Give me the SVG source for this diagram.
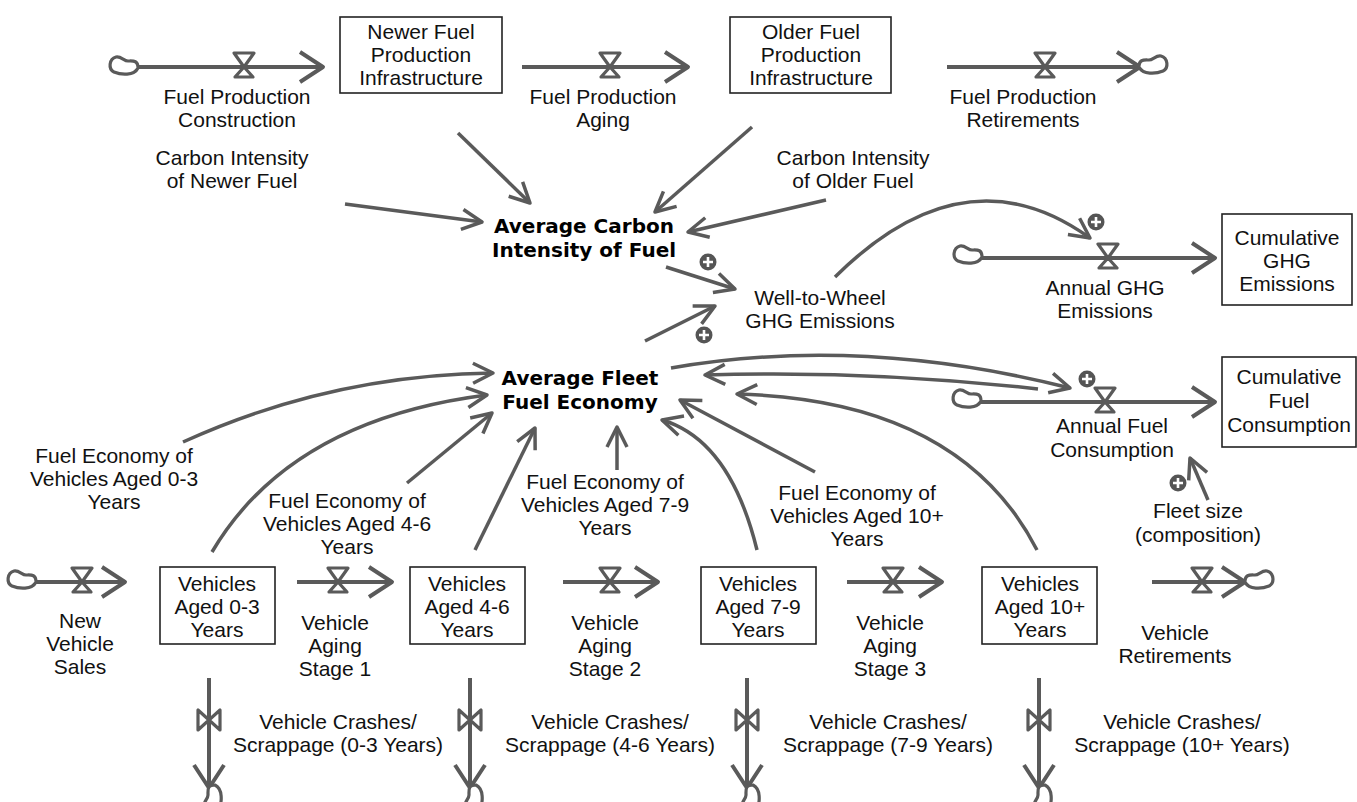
<svg xmlns="http://www.w3.org/2000/svg" xmlns:xlink="http://www.w3.org/1999/xlink" width="1357" height="802" viewBox="0 0 1357 802">
<style>
.t{font-family:"Liberation Sans",Arial,sans-serif;font-size:21px;fill:#111;text-anchor:middle}
.b{font-family:"DejaVu Sans",sans-serif;font-weight:bold;font-size:20px;fill:#000;text-anchor:middle}
.box{fill:#fff;stroke:#222;stroke-width:1.6}
.flow{stroke:#5a5a5a;stroke-width:4;fill:none;marker-end:url(#fa)}
.link{stroke:#5a5a5a;stroke-width:3.5;fill:none;marker-end:url(#ah)}
.valve{fill:#fff;stroke:#5a5a5a;stroke-width:3.2;stroke-linejoin:round}
.cloud{fill:#fff;stroke:#5a5a5a;stroke-width:3.2;stroke-linejoin:round}
</style>
<defs>
<marker id="ah" markerUnits="userSpaceOnUse" viewBox="-25 -13 30 26" markerWidth="30" markerHeight="26" refX="0" refY="0" orient="auto">
<path d="M-20,-10 L0,0 L-20,10" fill="none" stroke="#5a5a5a" stroke-width="3.5" stroke-linejoin="round"/>
</marker>
<marker id="fa" markerUnits="userSpaceOnUse" viewBox="-28 -18 33 36" markerWidth="33" markerHeight="36" refX="0" refY="0" orient="auto">
<path d="M-23,-15 L0,0 L-23,15" fill="none" stroke="#5a5a5a" stroke-width="4" stroke-linejoin="round"/>
</marker>
<path id="vh" class="valve" d="M-10,-14 L10,-14 L0,0 Z M0,0 L9,10 L-9,10 Z"/>
<path id="vv" class="valve" d="M-11,-10 L-11,10 L0,0 Z M11,-10 L11,10 L0,0 Z"/>
<path id="cl" class="cloud" d="M14,3 C10,11 -3,10 -10,7 C-16,4 -15,-6 -8,-8 C-3,-9 0,-4 4,-4 C9,-4 14,-5 14,3 Z"/>
<g id="plus"><circle r="8.5" fill="#555"/><path d="M-5,0 H5 M0,-5 V5" stroke="#fff" stroke-width="2.6"/></g>
</defs>
<rect width="1357" height="802" fill="#fff"/>

<g id="connectors">
<line class="flow" x1="135" y1="67" x2="323" y2="67"/>
<line class="flow" x1="522" y1="67" x2="688" y2="67"/>
<line class="flow" x1="947" y1="67" x2="1140" y2="67"/>
<line class="flow" x1="980" y1="258" x2="1215" y2="258"/>
<line class="flow" x1="980" y1="402" x2="1215" y2="402"/>
<line class="flow" x1="33" y1="582" x2="125" y2="582"/>
<line class="flow" x1="297" y1="582" x2="392" y2="582"/>
<line class="flow" x1="563" y1="582" x2="658" y2="582"/>
<line class="flow" x1="847" y1="582" x2="942" y2="582"/>
<line class="flow" x1="1152" y1="582" x2="1245" y2="582"/>
<line class="flow" x1="209" y1="678" x2="209" y2="788"/>
<line class="flow" x1="470" y1="678" x2="470" y2="788"/>
<line class="flow" x1="747" y1="678" x2="747" y2="788"/>
<line class="flow" x1="1039" y1="678" x2="1039" y2="788"/>

<use xlink:href="#vh" x="244" y="67"/>
<use xlink:href="#vh" x="610" y="67"/>
<use xlink:href="#vh" x="1045" y="67"/>
<use xlink:href="#vh" x="1108" y="258"/>
<use xlink:href="#vh" x="1105" y="402"/>
<use xlink:href="#vh" x="82" y="582"/>
<use xlink:href="#vh" x="338" y="582"/>
<use xlink:href="#vh" x="610" y="582"/>
<use xlink:href="#vh" x="893" y="582"/>
<use xlink:href="#vh" x="1202" y="582"/>
<use xlink:href="#vv" x="209" y="720"/>
<use xlink:href="#vv" x="470" y="720"/>
<use xlink:href="#vv" x="747" y="720"/>
<use xlink:href="#vv" x="1039" y="720"/>

<use xlink:href="#cl" transform="translate(124,65)"/>
<use xlink:href="#cl" transform="translate(1153,64) scale(-1,1)"/>
<use xlink:href="#cl" transform="translate(968,254)"/>
<use xlink:href="#cl" transform="translate(967,398)"/>
<use xlink:href="#cl" transform="translate(22,579)"/>
<use xlink:href="#cl" transform="translate(1259,579) scale(-1,1)"/>
<use xlink:href="#cl" transform="translate(212,799) rotate(-90)"/>
<use xlink:href="#cl" transform="translate(473,799) rotate(-90)"/>
<use xlink:href="#cl" transform="translate(750,799) rotate(-90)"/>
<use xlink:href="#cl" transform="translate(1042,799) rotate(-90)"/>

<line class="link" x1="458" y1="133" x2="530" y2="203"/>
<line class="link" x1="752" y1="127" x2="655" y2="212"/>
<line class="link" x1="345" y1="204" x2="482" y2="222"/>
<line class="link" x1="826" y1="200" x2="688" y2="232"/>
<line class="link" x1="666" y1="267" x2="735" y2="289"/>
<line class="link" x1="645" y1="341" x2="715" y2="306"/>
<path class="link" d="M835,277 Q965,148 1090,238"/>
<path class="link" d="M671,368 Q860,335 1070,388"/>
<path class="link" d="M1038,389 Q870,370 705,375"/>
<path class="link" d="M1037,550 Q960,400 737,394"/>
<path class="link" d="M757,550 Q730,440 662,420"/>
<line class="link" x1="815" y1="472" x2="680" y2="400"/>
<line class="link" x1="617" y1="470" x2="617" y2="427"/>
<line class="link" x1="475" y1="550" x2="535" y2="428"/>
<line class="link" x1="407" y1="483" x2="492" y2="413"/>
<path class="link" d="M212,552 Q290,420 487,395"/>
<path class="link" d="M183,442 Q330,375 493,373"/>
<line class="link" x1="1208" y1="500" x2="1190" y2="458"/>

<use xlink:href="#plus" x="708" y="262"/>
<use xlink:href="#plus" x="704" y="335"/>
<use xlink:href="#plus" x="1096" y="222"/>
<use xlink:href="#plus" x="1087" y="379"/>
<use xlink:href="#plus" x="1178" y="483"/>
</g>

<g id="newer_fuel_infra"><rect class="box" x="340" y="17" width="162" height="76"/>
<text class="t" x="421" y="39">Newer Fuel</text><text class="t" x="421" y="62">Production</text><text class="t" x="421" y="85">Infrastructure</text></g>
<g id="older_fuel_infra"><rect class="box" x="730" y="17" width="161" height="76"/>
<text class="t" x="811" y="39">Older Fuel</text><text class="t" x="811" y="62">Production</text><text class="t" x="811" y="85">Infrastructure</text></g>
<g id="fuel_prod_construction"><text class="t" x="237" y="104">Fuel Production</text><text class="t" x="237" y="127">Construction</text></g>
<g id="fuel_prod_aging"><text class="t" x="603" y="104">Fuel Production</text><text class="t" x="603" y="127">Aging</text></g>
<g id="fuel_prod_retirements"><text class="t" x="1023" y="104">Fuel Production</text><text class="t" x="1023" y="127">Retirements</text></g>
<g id="ci_newer"><text class="t" x="232" y="165">Carbon Intensity</text><text class="t" x="232" y="188">of Newer Fuel</text></g>
<g id="ci_older"><text class="t" x="853" y="165">Carbon Intensity</text><text class="t" x="853" y="188">of Older Fuel</text></g>
<g id="avg_ci"><text class="b" x="584" y="233">Average Carbon</text><text class="b" x="584" y="257">Intensity of Fuel</text></g>
<g id="wtw"><text class="t" x="820" y="305">Well-to-Wheel</text><text class="t" x="820" y="328">GHG Emissions</text></g>
<g id="annual_ghg"><text class="t" x="1105" y="295">Annual GHG</text><text class="t" x="1105" y="318">Emissions</text></g>
<g id="cum_ghg"><rect class="box" x="1222" y="214" width="130" height="91"/>
<text class="t" x="1287" y="245">Cumulative</text><text class="t" x="1287" y="268">GHG</text><text class="t" x="1287" y="291">Emissions</text></g>
<g id="avg_fe"><text class="b" x="580" y="385">Average Fleet</text><text class="b" x="580" y="409">Fuel Economy</text></g>
<g id="annual_fuel"><text class="t" x="1112" y="433">Annual Fuel</text><text class="t" x="1112" y="457">Consumption</text></g>
<g id="cum_fuel"><rect class="box" x="1222" y="357" width="134" height="90"/>
<text class="t" x="1289" y="384">Cumulative</text><text class="t" x="1289" y="408">Fuel</text><text class="t" x="1289" y="432">Consumption</text></g>
<g id="fleet_size"><text class="t" x="1198" y="518">Fleet size</text><text class="t" x="1198" y="542">(composition)</text></g>
<g id="fe_0_3"><text class="t" x="114" y="463">Fuel Economy of</text><text class="t" x="114" y="486">Vehicles Aged 0-3</text><text class="t" x="114" y="509">Years</text></g>
<g id="fe_4_6"><text class="t" x="347" y="508">Fuel Economy of</text><text class="t" x="347" y="531">Vehicles Aged 4-6</text><text class="t" x="347" y="554">Years</text></g>
<g id="fe_7_9"><text class="t" x="605" y="489">Fuel Economy of</text><text class="t" x="605" y="512">Vehicles Aged 7-9</text><text class="t" x="605" y="535">Years</text></g>
<g id="fe_10"><text class="t" x="857" y="500">Fuel Economy of</text><text class="t" x="857" y="523">Vehicles Aged 10+</text><text class="t" x="857" y="546">Years</text></g>

<g id="new_sales"><text class="t" x="80" y="628">New</text><text class="t" x="80" y="651">Vehicle</text><text class="t" x="80" y="674">Sales</text></g>
<g id="veh_0_3"><rect class="box" x="160" y="567" width="115" height="77"/>
<text class="t" x="217" y="591">Vehicles</text><text class="t" x="217" y="614">Aged 0-3</text><text class="t" x="217" y="637">Years</text></g>
<g id="aging1"><text class="t" x="335" y="630">Vehicle</text><text class="t" x="335" y="653">Aging</text><text class="t" x="335" y="676">Stage 1</text></g>
<g id="veh_4_6"><rect class="box" x="410" y="567" width="115" height="77"/>
<text class="t" x="467" y="591">Vehicles</text><text class="t" x="467" y="614">Aged 4-6</text><text class="t" x="467" y="637">Years</text></g>
<g id="aging2"><text class="t" x="605" y="630">Vehicle</text><text class="t" x="605" y="653">Aging</text><text class="t" x="605" y="676">Stage 2</text></g>
<g id="veh_7_9"><rect class="box" x="701" y="567" width="115" height="77"/>
<text class="t" x="758" y="591">Vehicles</text><text class="t" x="758" y="614">Aged 7-9</text><text class="t" x="758" y="637">Years</text></g>
<g id="aging3"><text class="t" x="890" y="630">Vehicle</text><text class="t" x="890" y="653">Aging</text><text class="t" x="890" y="676">Stage 3</text></g>
<g id="veh_10"><rect class="box" x="982" y="567" width="115" height="77"/>
<text class="t" x="1040" y="591">Vehicles</text><text class="t" x="1040" y="614">Aged 10+</text><text class="t" x="1040" y="637">Years</text></g>
<g id="veh_retire"><text class="t" x="1175" y="640">Vehicle</text><text class="t" x="1175" y="663">Retirements</text></g>
<g id="crash_0_3"><text class="t" x="338" y="729">Vehicle Crashes/</text><text class="t" x="338" y="752">Scrappage (0-3 Years)</text></g>
<g id="crash_4_6"><text class="t" x="610" y="729">Vehicle Crashes/</text><text class="t" x="610" y="752">Scrappage (4-6 Years)</text></g>
<g id="crash_7_9"><text class="t" x="888" y="729">Vehicle Crashes/</text><text class="t" x="888" y="752">Scrappage (7-9 Years)</text></g>
<g id="crash_10"><text class="t" x="1182" y="729">Vehicle Crashes/</text><text class="t" x="1182" y="752">Scrappage (10+ Years)</text></g>
</svg>
